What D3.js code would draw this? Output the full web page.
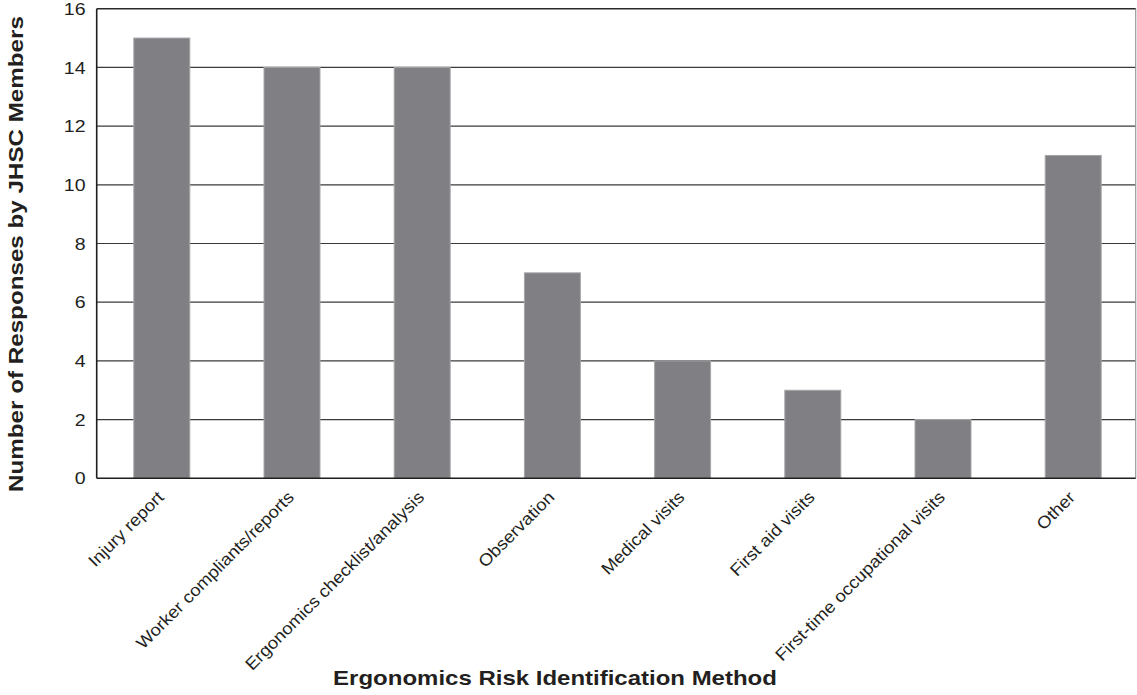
<!DOCTYPE html>
<html>
<head>
<meta charset="utf-8">
<script src="https://cdn.jsdelivr.net/npm/d3@7/dist/d3.min.js"></script>
<style>
  html, body { margin: 0; padding: 0; background: #fff; }
  svg { display: block; font-family: "Liberation Sans", Arial, sans-serif; }
</style>
</head>
<body>
<svg id="chart" width="1137" height="695"></svg>
<script>
const categories = [
  "Injury report",
  "Worker compliants/reports",
  "Ergonomics checklist/analysis",
  "Observation",
  "Medical visits",
  "First aid visits",
  "First-time occupational visits",
  "Other"
];
const values = [15, 14, 14, 7, 4, 3, 2, 11];
const yTicks = [0, 2, 4, 6, 8, 10, 12, 14, 16];
const xTitle = "Ergonomics Risk Identification Method";
const yTitle = "Number of Responses by JHSC Members";

(function () {
const svg = d3.select("#chart");
const pLeft = 96.7, pRight = 1135.7, pTop = 8.7, pBottom = 478.3;
const textColor = "#231f20";

const x = d3.scaleBand().domain(categories).range([pLeft, 1138.3])
  .paddingInner(0.57).paddingOuter(0.285);
const y = d3.scaleLinear().domain([0, 16]).range([pBottom, pTop]);

// gridlines
svg.append("g").selectAll("line").data(yTicks.filter(d => d > 0 && d < 16)).join("line")
  .attr("x1", pLeft).attr("x2", pRight)
  .attr("y1", d => y(d)).attr("y2", d => y(d))
  .attr("stroke", "#3a3a3a").attr("stroke-width", 1.2);

// bars
svg.append("g").selectAll("rect").data(values).join("rect")
  .attr("x", (d, i) => x(categories[i]))
  .attr("width", x.bandwidth())
  .attr("y", d => y(d))
  .attr("height", d => y(0) - y(d))
  .attr("fill", "#808084")
  .attr("stroke", "#a6a6a9").attr("stroke-width", 1);

// frame
svg.append("line").attr("x1", pRight).attr("x2", pRight).attr("y1", pTop).attr("y2", pBottom)
  .attr("stroke", "#9a9a9a").attr("stroke-width", 1.2);
svg.append("line").attr("x1", pLeft).attr("x2", pRight).attr("y1", pTop).attr("y2", pTop)
  .attr("stroke", "#2a2a2a").attr("stroke-width", 1.4);
svg.append("line").attr("x1", pLeft).attr("x2", pRight).attr("y1", pBottom).attr("y2", pBottom)
  .attr("stroke", "#1e1e1e").attr("stroke-width", 1.6);
svg.append("line").attr("x1", pLeft).attr("x2", pLeft).attr("y1", pTop).attr("y2", pBottom)
  .attr("stroke", "#1e1e1e").attr("stroke-width", 1.6);

// y tick labels
svg.append("g").selectAll("text").data(yTicks).join("text")
  .attr("transform", d => `translate(85.5,${y(d)}) scale(1.15,1)`)
  .attr("dy", "0.36em")
  .attr("text-anchor", "end")
  .attr("font-size", 17)
  .attr("fill", textColor)
  .text(d => d);

// x category labels
svg.append("g").selectAll("text").data(categories).join("text")
  .attr("transform", d => `translate(${x(d) + x.bandwidth() / 2 + 3},${pBottom + 20}) rotate(-45) scale(1.085,1)`)
  .attr("text-anchor", "end")
  .attr("font-size", 17)
  .attr("fill", textColor)
  .text(d => d);

// axis titles
svg.append("text")
  .attr("transform", "translate(555,685) scale(1.2,1)")
  .attr("text-anchor", "middle")
  .attr("font-size", 20).attr("font-weight", "bold")
  .attr("fill", textColor)
  .text(xTitle);

svg.append("text")
  .attr("transform", "translate(23,254) rotate(-90) scale(1.21,1)")
  .attr("text-anchor", "middle")
  .attr("font-size", 20).attr("font-weight", "bold")
  .attr("fill", textColor)
  .text(yTitle);
})();
</script>
</body>
</html>
